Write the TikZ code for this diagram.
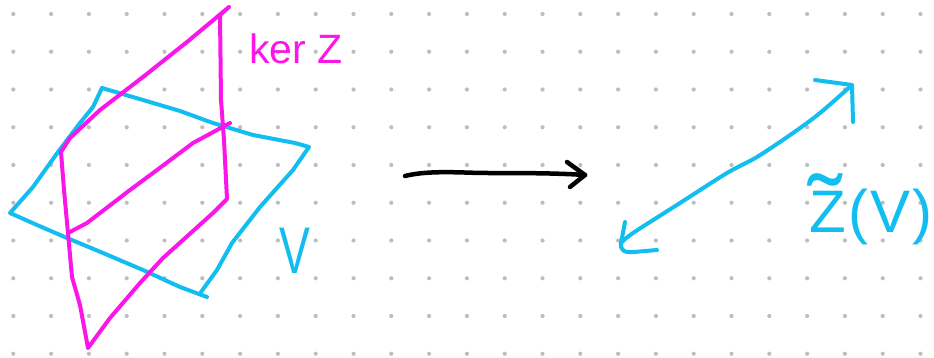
\documentclass[tikz,border=0pt]{standalone}
\usepackage{fontspec}
\setmainfont{Liberation Sans}
\usepackage{graphicx}
\definecolor{mag}{RGB}{250,22,232}
\definecolor{cy}{RGB}{18,190,240}
\definecolor{dotc}{RGB}{190,190,190}
\begin{document}
\begin{tikzpicture}[x=1pt,y=-1pt,
  pen/.style={line width=4pt,line cap=round,line join=round},
  magpen/.style={pen,draw=mag},
  cypen/.style={pen,draw=cy},
  blackpen/.style={pen,draw=black,line width=4.5pt},
  lbl/.style={inner sep=0pt,anchor=center}]
\useasboundingbox (0,0) rectangle (934,358);
\fill[white] (0,0) rectangle (934,358);
% dot grid
\foreach \i in {0,...,24}{\foreach \j in {0,...,9}{\fill[dotc] ({13.3+37.8*\i},{14+37.75*\j}) circle (2.1);}}
% plane V (cyan)
\draw[cypen] (102,88) -- (143,100) -- (180,111) -- (213,123) -- (253,135) -- (295,143) -- (309,147)
  -- (293,170) -- (260,207) -- (232,243) -- (217,270) -- (201,292);
\draw[cypen] (207,297) -- (180,287) -- (143,270) -- (103,253) -- (67,238) -- (37,225) -- (10,213)
  -- (33,187) -- (58,152) -- (80,123) -- (93,107) -- (102,88);
% plane ker Z (magenta)
\draw[magpen] (229,7) -- (187,42) -- (143,77) -- (100,110) -- (70,138) -- (61,152)
  -- (64,190) -- (68,233) -- (72,277) -- (80,305) -- (88,348)
  -- (110,318) -- (140,283) -- (163,258) -- (213,213) -- (227,199)
  -- (224,140) -- (221,100) -- (220,15) -- (229,7);
\draw[magpen] (68,233) -- (87,223) -- (130,190) -- (157,170) -- (193,143) -- (230,123);
% labels
\node[lbl,text=mag,font=\fontsize{41}{41}\selectfont] (kerZ) at (296,49) {ker Z};
\node[lbl,text=cy,font=\fontsize{66}{66}\selectfont] (V) at (295,251) {\scalebox{0.7}[1]{V}};
\node[lbl,text=cy,font=\fontsize{60}{60}\selectfont,anchor=base] (ZV) at (871,233)
  {\rlap{\hspace{-1pt}\raisebox{-10pt}{\scalebox{1.7}[1.6]{\char"02DC}}}Z\hspace{3pt}(\hspace{2pt}V\hspace{2pt})};
% black map arrow
\coordinate (a0) at (405,176);
\coordinate (a1) at (585,175);
\draw[blackpen] (a0) .. controls (425,171) and (450,172) .. (480,173) .. controls (520,173) and (555,173) .. (a1);
\draw[blackpen] (567,162) -- (a1) -- (570,187);
% cyan line Z(V)
\coordinate (b0) at (621,243);
\coordinate (b1) at (852,85);
\draw[cypen] plot[smooth,tension=0.5] coordinates {(621,243) (633,233) (680,203) (727,173) (757,157) (793,133) (820,113) (852,85)};
\draw[cypen] (815,80) -- (b1) -- (853,122);
\draw[cypen] (625,222) -- (b0) .. controls (620,250) and (624,253) .. (634,252) -- (657,250);
\end{tikzpicture}
\end{document}
